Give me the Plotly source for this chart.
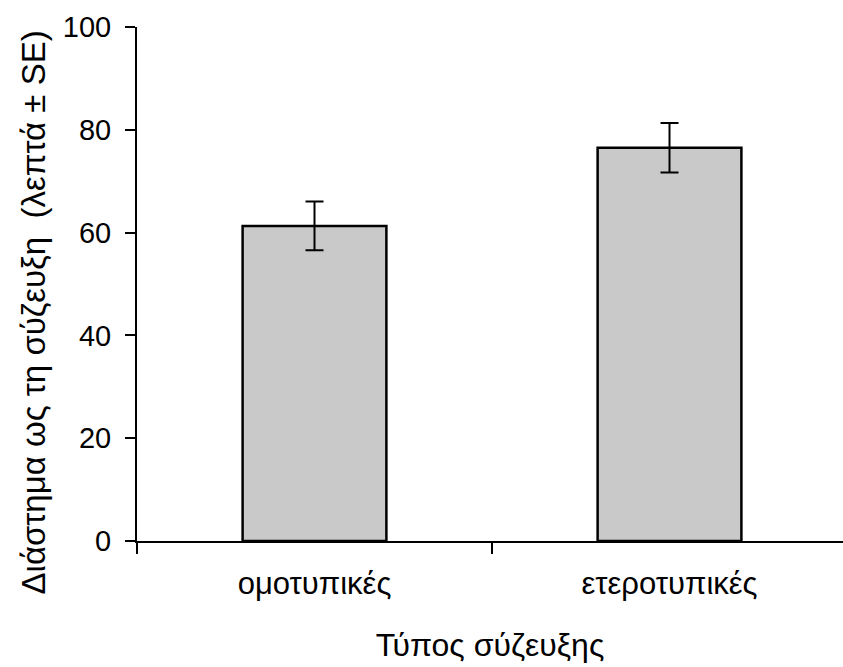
import plotly.graph_objects as go

# Mean time to mating (minutes) per mating type, with standard errors
categories = ["ομοτυπικές", "ετεροτυπικές"]
mean_minutes = [61.3, 76.5]
se_minutes = [4.75, 4.8]

y_ticks = [0, 20, 40, 60, 80, 100]
y_title = "Διάστημα ως τη σύζευξη\u00a0\u00a0(λεπτά ± SE)"
x_title = "Τύπος σύζευξης"

font_family = "Liberation Sans, Arial, sans-serif"

fig = go.Figure(
    go.Bar(
        x=categories,
        y=mean_minutes,
        width=0.405,
        marker=dict(color="#c9c9c9", line=dict(color="black", width=2.5)),
        error_y=dict(type="data", array=se_minutes, visible=True,
                     color="black", thickness=2, width=9),
    )
)

fig.update_layout(
    width=843,
    height=667,
    margin=dict(l=137, r=0, t=27, b=126),
    paper_bgcolor="white",
    plot_bgcolor="white",
    showlegend=False,
    font=dict(family=font_family, color="black", size=28),
)

fig.update_xaxes(
    type="category",
    range=[-0.5, 1.4887],
    showline=True, linecolor="black", linewidth=2,
    ticks="outside", tickson="boundaries", ticklen=11, tickwidth=2, tickcolor="black",
    tickfont=dict(size=31), ticklabelstandoff=14,
    showgrid=False, zeroline=False,
    title=dict(text=x_title, font=dict(size=32), standoff=33),
)

fig.update_yaxes(
    range=[0, 100],
    tickvals=y_ticks,
    showline=True, linecolor="black", linewidth=2,
    ticks="outside", ticklen=10, tickwidth=2, tickcolor="black",
    tickfont=dict(size=29), ticklabelstandoff=8,
    showgrid=False, zeroline=False,
)

# Vertical axis title, sitting slightly below the plot-area centre
fig.add_annotation(
    text=y_title, textangle=-90, showarrow=False,
    xref="paper", yref="paper", x=-0.147, y=0.445,
    xanchor="center", yanchor="middle",
    font=dict(size=33),
)

fig.write_html("out.html")
